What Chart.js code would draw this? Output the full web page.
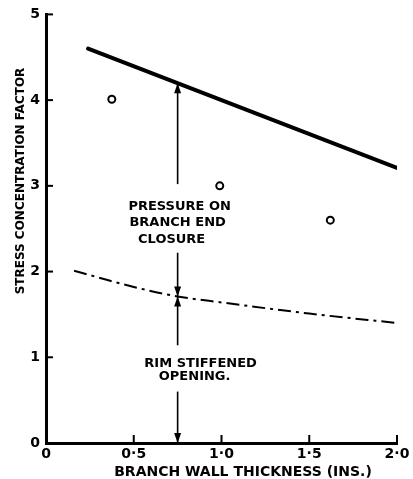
<!DOCTYPE html>
<html>
<head>
<meta charset="utf-8">
<script src="https://cdn.jsdelivr.net/npm/chart.js@4.4.1/dist/chart.umd.min.js"></script>
<style>
  html, body { margin: 0; padding: 0; background: #ffffff; }
  #wrap { width: 413px; height: 479px; position: relative; }
</style>
</head>
<body>
<div id="wrap"><canvas id="chartScf"></canvas></div>
<script>
// Valores
var pressureThickness = [0.24, 2.0];
var pressureScf = [4.6, 3.21];

var rimThickness = [0.16, 0.3, 0.5, 0.75, 1.0, 1.5, 2.0];
var rimScf = [2.01, 1.93, 1.82, 1.71, 1.64, 1.51, 1.40];

var testThickness = [0.375, 0.99, 1.62];
var testScf = [4.01, 3.0, 2.6];

var xTicks = [0, 0.5, 1.0, 1.5, 2.0];
var yTicks = [0, 1, 2, 3, 4, 5];

var arrowX = 0.75;
var upperLabel = ['PRESSURE ON', 'BRANCH END', 'CLOSURE'];
var lowerLabel = ['RIM STIFFENED', 'OPENING.'];
var xTitle = 'BRANCH WALL THICKNESS (INS.)';
var yTitle = 'STRESS CONCENTRATION FACTOR';

var FONT = '"DejaVu Sans", "Liberation Sans", sans-serif';

function toPoints(xs, ys) {
  return xs.map(function(x, i) { return { x: x, y: ys[i] }; });
}

function interp(xs, ys, x) {
  for (var i = 0; i < xs.length - 1; i++) {
    if (x >= xs[i] && x <= xs[i + 1]) {
      var t = (x - xs[i]) / (xs[i + 1] - xs[i]);
      return ys[i] + t * (ys[i + 1] - ys[i]);
    }
  }
  return ys[ys.length - 1];
}

function tickLabel(v) {
  if (v === 0) return '0';
  return v.toFixed(1).replace('.', '\u00b7');
}

// Dibuja un tramo vertical con punta de flecha opcional en cada extremo
function arrowSeg(ctx, x, y1, y2, head1, head2) {
  ctx.beginPath();
  ctx.moveTo(x, y1);
  ctx.lineTo(x, y2);
  ctx.stroke();
  function head(yTip, dir) {
    ctx.beginPath();
    ctx.moveTo(x, yTip);
    ctx.lineTo(x - 3.5, yTip + dir * 10);
    ctx.lineTo(x + 3.5, yTip + dir * 10);
    ctx.closePath();
    ctx.fill();
  }
  if (head1) head(y1, y2 > y1 ? 1 : -1);
  if (head2) head(y2, y1 > y2 ? 1 : -1);
}

var annotations = {
  id: 'annotations',
  afterDraw: function(chart) {
    var ctx = chart.ctx;
    var xs = chart.scales.x;
    var ys = chart.scales.y;
    var area = chart.chartArea;
    ctx.save();
    ctx.strokeStyle = '#000';
    ctx.fillStyle = '#000';

    // marcas hacia dentro
    ctx.lineWidth = 2;
    xTicks.forEach(function(v) {
      if (v === 0) return;
      var px = xs.getPixelForValue(v);
      ctx.beginPath();
      ctx.moveTo(px, area.bottom);
      ctx.lineTo(px, area.bottom - 8);
      ctx.stroke();
    });
    yTicks.forEach(function(v) {
      if (v === 0) return;
      var py = ys.getPixelForValue(v);
      ctx.beginPath();
      ctx.moveTo(area.left, py);
      ctx.lineTo(area.left + 7, py);
      ctx.stroke();
    });

    // flechas de cota
    var ax = xs.getPixelForValue(arrowX);
    var topY = ys.getPixelForValue(interp(pressureThickness, pressureScf, arrowX));
    var midY = ys.getPixelForValue(interp(rimThickness, rimScf, arrowX));
    var botY = ys.getPixelForValue(0);
    ctx.lineWidth = 1.6;
    arrowSeg(ctx, ax, topY, ys.getPixelForValue(3.02), true, false);
    arrowSeg(ctx, ax, ys.getPixelForValue(2.22), midY, false, true);
    arrowSeg(ctx, ax, midY, ys.getPixelForValue(1.14), true, false);
    arrowSeg(ctx, ax, ys.getPixelForValue(0.6), botY, false, true);

    // textos
    ctx.font = 'bold 13px ' + FONT;
    ctx.textAlign = 'center';
    ctx.textBaseline = 'middle';
    var upOff = [2, 0, -6];
    upperLabel.forEach(function(s, i) {
      ctx.fillText(s, ax + upOff[i], ys.getPixelForValue(2.76) + i * 16.5);
    });
    var lowOff = [23, 17];
    lowerLabel.forEach(function(s, i) {
      ctx.fillText(s, ax + lowOff[i], ys.getPixelForValue(0.93) + i * 13);
    });

    ctx.font = 'bold 14px ' + FONT;
    ctx.fillText(xTitle, 243, 472);

    ctx.translate(21, 181);
    ctx.rotate(-Math.PI / 2);
    ctx.font = 'bold 12px ' + FONT;
    ctx.fillText(yTitle, 0, 0);
    ctx.restore();
  }
};

new Chart(document.getElementById('chartScf'), {
  type: 'scatter',
  data: {
    datasets: [
      {
        label: 'Pressure on branch end closure',
        data: toPoints(pressureThickness, pressureScf),
        showLine: true,
        borderColor: '#000',
        borderWidth: 4,
        pointRadius: 0,
        borderCapStyle: 'round'
      },
      {
        label: 'Rim stiffened opening',
        data: toPoints(rimThickness, rimScf),
        showLine: true,
        borderColor: '#000',
        borderWidth: 2,
        borderDash: [13, 5, 3, 5],
        cubicInterpolationMode: 'monotone',
        pointRadius: 0
      },
      {
        label: 'Test',
        data: toPoints(testThickness, testScf),
        showLine: false,
        pointStyle: 'circle',
        pointRadius: 3.5,
        borderWidth: 2,
        borderColor: '#000',
        backgroundColor: '#fff'
      }
    ]
  },
  options: {
    responsive: true,
    maintainAspectRatio: false,
    animation: false,
    layout: { padding: { top: 13, right: 16, left: 0, bottom: 0 } },
    plugins: { legend: { display: false }, tooltip: { enabled: false } },
    scales: {
      x: {
        type: 'linear',
        min: 0, max: 2,
        afterFit: function(s) { s.height = 36; },
        afterBuildTicks: function(s) { s.ticks = xTicks.map(function(v) { return { value: v }; }); },
        grid: { display: false, drawTicks: false },
        border: { display: true, color: '#000', width: 3 },
        ticks: { color: '#000', padding: 3, font: { family: FONT, size: 14, weight: 'bold' }, callback: tickLabel, maxRotation: 0 }
      },
      y: {
        type: 'linear',
        min: 0, max: 5,
        afterFit: function(s) { s.width = 46; },
        afterBuildTicks: function(s) { s.ticks = yTicks.map(function(v) { return { value: v }; }); },
        grid: { display: false, drawTicks: false },
        border: { display: true, color: '#000', width: 3 },
        ticks: { color: '#000', padding: 6, font: { family: FONT, size: 14, weight: 'bold' } }
      }
    }
  },
  plugins: [annotations]
});
</script>
</body>
</html>
